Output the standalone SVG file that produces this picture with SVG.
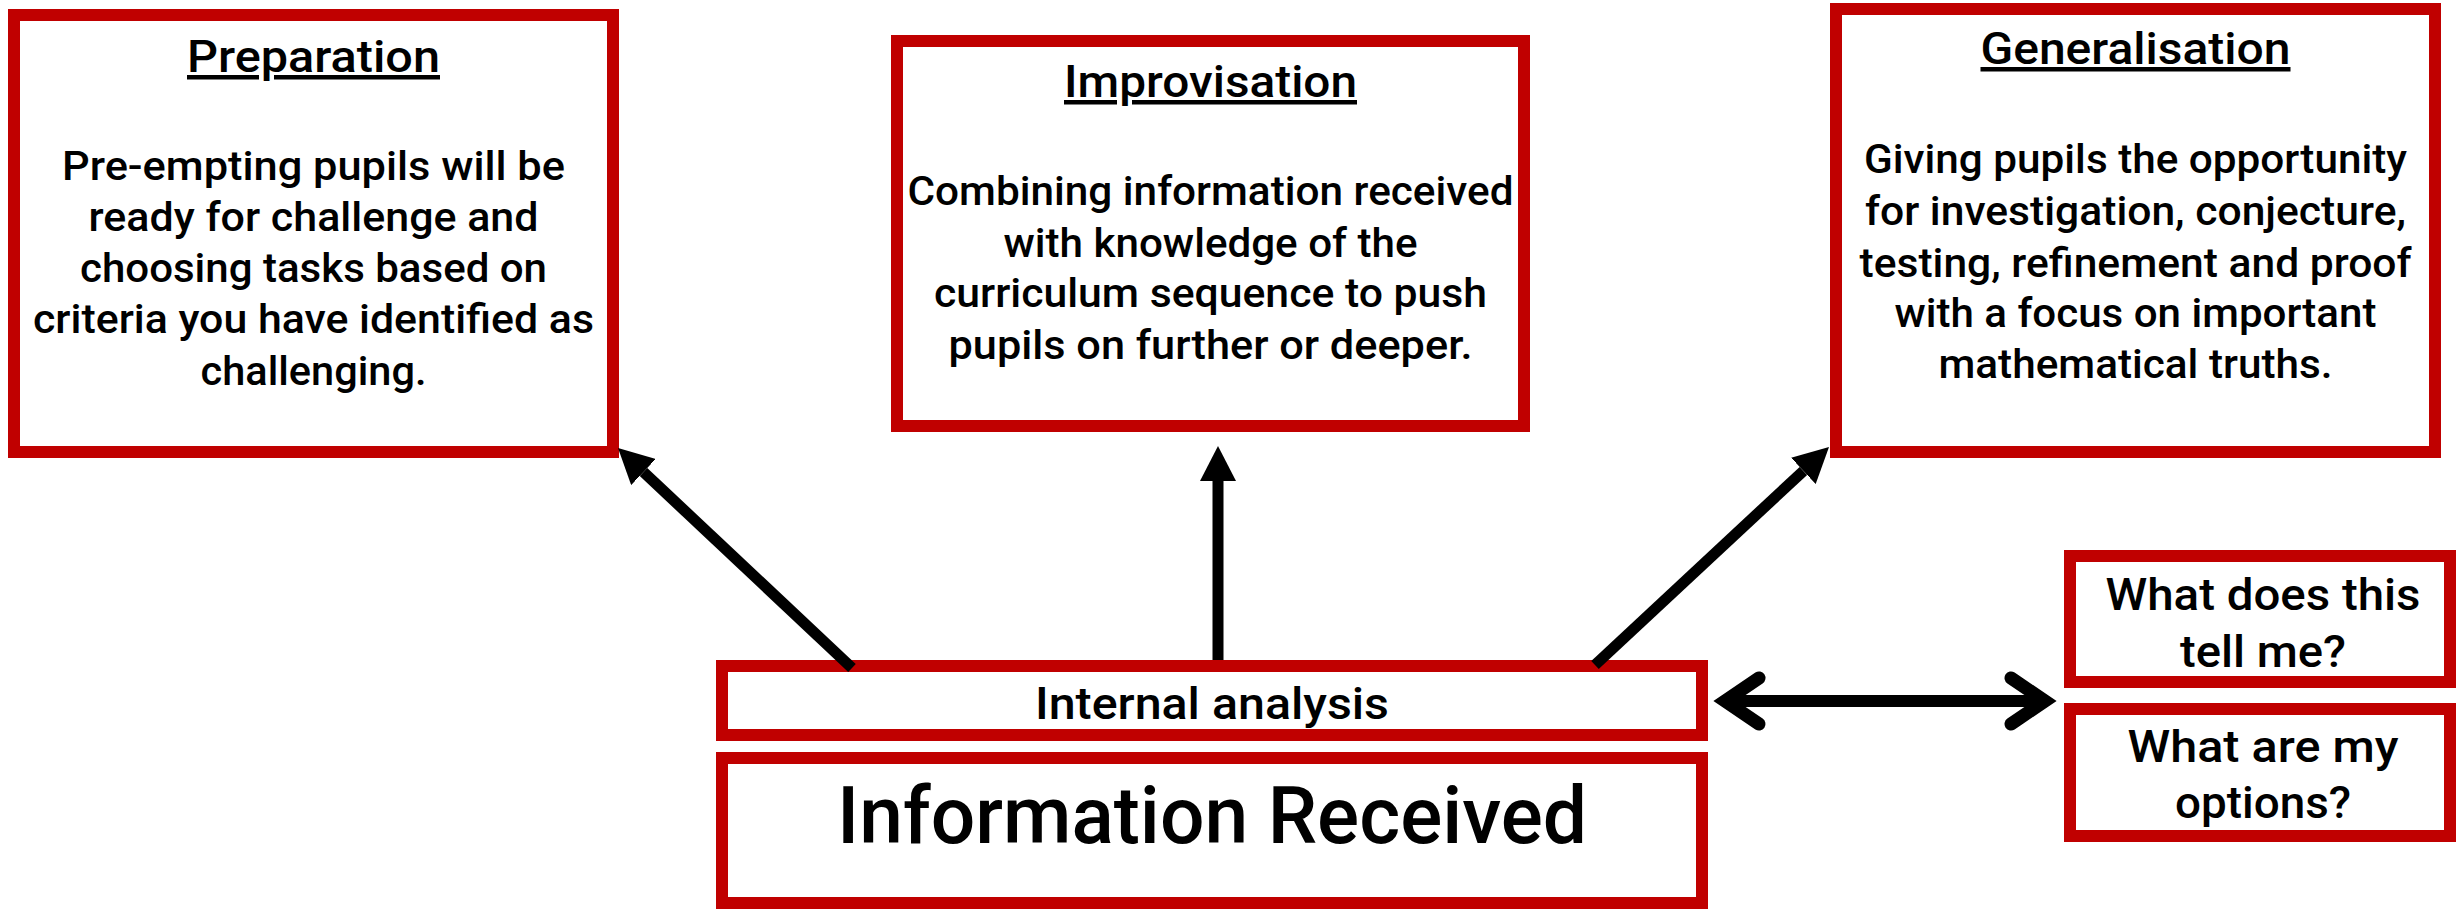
<svg xmlns="http://www.w3.org/2000/svg" width="2458" height="909" viewBox="0 0 2458 909">
<style>
.box{fill:#fff;stroke:#C00000;stroke-width:12}
text{font-family:Roboto,"Liberation Sans",Arial,sans-serif;font-weight:500;fill:#000;text-anchor:middle}
.title{font-size:45px;text-decoration:underline}
.body{font-size:41px}
.q{font-size:45px}
.conn{stroke:#000;stroke-width:11;fill:none}
.chev{stroke:#000;stroke-width:13;fill:none;stroke-linecap:round;stroke-linejoin:miter}
</style>
<defs>
<marker id="head" markerUnits="userSpaceOnUse" viewBox="0 0 35 36" refX="0" refY="18" markerWidth="35" markerHeight="36" orient="auto">
<path d="M0,0 L35,18 L0,36 Z" fill="#000"/>
</marker>
</defs>
<rect width="2458" height="909" fill="#fff"/>

<g id="preparation">
<rect class="box" x="14" y="15" width="599" height="437"/>
<text class="title" x="313.5" y="72" textLength="253" lengthAdjust="spacingAndGlyphs">Preparation</text>
<text class="body" x="313.5" y="180" textLength="503" lengthAdjust="spacingAndGlyphs">Pre-empting pupils will be</text>
<text class="body" x="313.5" y="231" textLength="450" lengthAdjust="spacingAndGlyphs">ready for challenge and</text>
<text class="body" x="313.5" y="282" textLength="467" lengthAdjust="spacingAndGlyphs">choosing tasks based on</text>
<text class="body" x="313.5" y="333" textLength="561" lengthAdjust="spacingAndGlyphs">criteria you have identified as</text>
<text class="body" x="313.5" y="385" textLength="226" lengthAdjust="spacingAndGlyphs">challenging.</text>
</g>

<g id="improvisation">
<rect class="box" x="897" y="41" width="627" height="385"/>
<text class="title" x="1210.5" y="97" textLength="293" lengthAdjust="spacingAndGlyphs">Improvisation</text>
<text class="body" x="1210.5" y="205" textLength="606" lengthAdjust="spacingAndGlyphs">Combining information received</text>
<text class="body" x="1210.5" y="257" textLength="414" lengthAdjust="spacingAndGlyphs">with knowledge of the</text>
<text class="body" x="1210.5" y="307" textLength="553" lengthAdjust="spacingAndGlyphs">curriculum sequence to push</text>
<text class="body" x="1210.5" y="359" textLength="524" lengthAdjust="spacingAndGlyphs">pupils on further or deeper.</text>
</g>

<g id="generalisation">
<rect class="box" x="1836" y="9" width="599" height="443"/>
<text class="title" x="2135.5" y="64" textLength="310" lengthAdjust="spacingAndGlyphs">Generalisation</text>
<text class="body" x="2135.5" y="173" textLength="543" lengthAdjust="spacingAndGlyphs">Giving pupils the opportunity</text>
<text class="body" x="2135.5" y="225" textLength="541" lengthAdjust="spacingAndGlyphs">for investigation, conjecture,</text>
<text class="body" x="2135.5" y="277" textLength="552" lengthAdjust="spacingAndGlyphs">testing, refinement and proof</text>
<text class="body" x="2135.5" y="327" textLength="482" lengthAdjust="spacingAndGlyphs">with a focus on important</text>
<text class="body" x="2135.5" y="378" textLength="394" lengthAdjust="spacingAndGlyphs">mathematical truths.</text>
</g>

<g id="internal-analysis">
<rect class="box" x="722" y="666" width="980" height="69"/>
<text x="1212" y="719" font-size="44" textLength="354" lengthAdjust="spacingAndGlyphs">Internal analysis</text>
</g>

<g id="information-received">
<rect class="box" x="722" y="758" width="980" height="145"/>
<text x="1212" y="843" font-size="79" textLength="750" lengthAdjust="spacingAndGlyphs">Information Received</text>
</g>

<g id="what-does-this-tell-me">
<rect class="box" x="2070" y="556" width="380" height="126"/>
<text class="q" x="2263" y="610" textLength="315" lengthAdjust="spacingAndGlyphs">What does this</text>
<text class="q" x="2263" y="667" textLength="166" lengthAdjust="spacingAndGlyphs">tell me?</text>
</g>

<g id="what-are-my-options">
<rect class="box" x="2070" y="709" width="380" height="127"/>
<text class="q" x="2263" y="762" textLength="271" lengthAdjust="spacingAndGlyphs">What are my</text>
<text class="q" x="2263" y="818" textLength="176" lengthAdjust="spacingAndGlyphs">options?</text>
</g>

<g id="connectors">
<line class="conn" x1="852" y1="668" x2="643.5" y2="472" marker-end="url(#head)"/>
<line class="conn" x1="1218" y1="660" x2="1218" y2="481" marker-end="url(#head)"/>
<line class="conn" x1="1595" y1="665" x2="1803.4" y2="470.9" marker-end="url(#head)"/>
<line class="conn" x1="1725" y1="701" x2="2045" y2="701" style="stroke-width:12"/>
<path class="chev" d="M1759,678 L1725,701 L1759,724"/>
<path class="chev" d="M2011,678 L2045,701 L2011,724"/>
</g>
</svg>
